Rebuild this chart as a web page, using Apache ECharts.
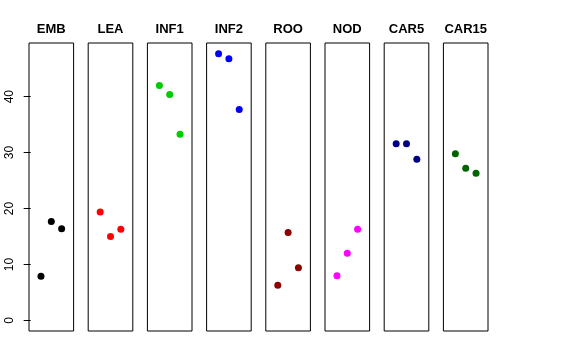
<!DOCTYPE html>
<html>
<head>
<meta charset="utf-8">
<script src="https://cdn.jsdelivr.net/npm/echarts@6/dist/echarts.min.js"></script>
<style>html,body{margin:0;padding:0;background:#fff}#c{width:576px;height:360px}</style>
</head>
<body>
<div id="c"></div>
<script>
var categories = ["EMB", "LEA", "INF1", "INF2", "ROO", "NOD", "CAR5", "CAR15"];
var colors = ["#000000", "#FF0000", "#00CD00", "#0000FF", "#8B0000", "#FF00FF", "#000080", "#006400"];
var xPositions = [1, 2, 3];
var EMB = [7.9, 17.7, 16.4];
var LEA = [19.4, 15.0, 16.3];
var INF1 = [42.0, 40.4, 33.3];
var INF2 = [47.7, 46.8, 37.7];
var ROO = [6.3, 15.7, 9.4];
var NOD = [8.0, 12.0, 16.3];
var CAR5 = [31.6, 31.6, 28.8];
var CAR15 = [29.8, 27.2, 26.3];
var yTicks = [0, 10, 20, 30, 40];

(function () {
  var values = [EMB, LEA, INF1, INF2, ROO, NOD, CAR5, CAR15];
  var grids = [], xAxes = [], yAxes = [], series = [];
  var left0 = 29, step = 59.2, w = 44.6, gTop = 43, gH = 288;
  var FONT = "'Liberation Sans', Arial, sans-serif";
  categories.forEach(function (name, i) {
    var l = left0 + i * step;
    grids.push({left: l, top: gTop, width: w, height: gH, show: true, borderColor: '#000', borderWidth: 1, backgroundColor: 'transparent'});
    xAxes.push({type: 'value', gridIndex: i, min: -0.16, max: 4.16, position: 'top',
      name: name, nameLocation: 'middle', nameGap: 7,
      nameTextStyle: {fontSize: 13, fontWeight: 'bold', color: '#000', fontFamily: FONT},
      axisLine: {show: false}, axisTick: {show: false}, axisLabel: {show: false}, splitLine: {show: false}});
    yAxes.push({
      type: 'value', gridIndex: i, min: -1.9, max: 49.6, show: i === 0,
      splitLine: {show: false},
      axisLine: {show: false},
      axisTick: {show: i === 0, length: 7, inside: false, customValues: yTicks, lineStyle: {color: '#000'}},
      axisLabel: {show: i === 0, customValues: yTicks, rotate: 90, margin: 13, color: '#000', fontSize: 12, fontFamily: FONT}
    });
    series.push({
      type: 'scatter', xAxisIndex: i, yAxisIndex: i, symbol: 'circle', symbolSize: 7,
      itemStyle: {color: colors[i], opacity: 1},
      data: xPositions.map(function (x, k) { return [x, values[i][k]]; })
    });
  });
  var chart = echarts.init(document.getElementById('c'), null, {renderer: 'canvas'});
  chart.setOption({
    animation: false,
    backgroundColor: '#fff',
    grid: grids,
    xAxis: xAxes,
    yAxis: yAxes,
    series: series
  });
})();
</script>
</body>
</html>
